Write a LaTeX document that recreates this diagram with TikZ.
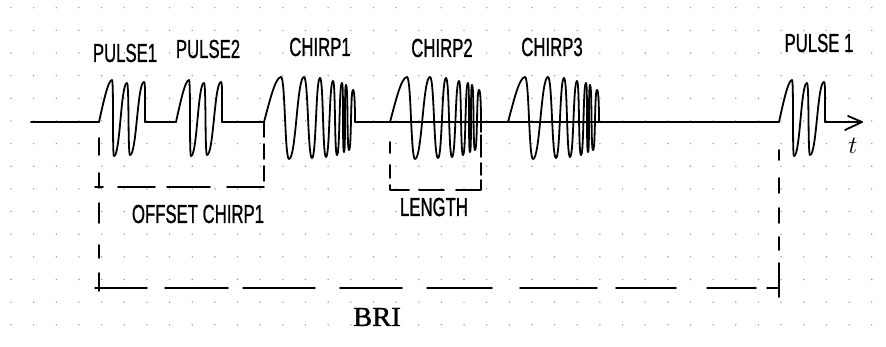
\documentclass[tikz,border=0pt]{standalone}
\usepackage{fontspec}
\usepackage{graphicx}
\newfontfamily\handfont[FakeBold=1.2]{Liberation Sans}
\newfontfamily\handserif[FakeBold=1.2]{Liberation Serif}

% tall, narrow capitals in the style of pen lettering
\newcommand\penlabel[1]{\scalebox{0.93}[1.45]{#1}}

% a run of half cycles, each from one extreme (x,y) to the next
\newcommand\halfwaves[1]{%
  \foreach \xa/\ya/\xb/\yb in {#1}{%
    \pgfmathsetmacro\wavectl{0.4*(\xb-\xa)+1}%
    \draw[pen] (\xa,\ya) .. controls ({\xa+\wavectl},\ya) and ({\xb-\wavectl},\yb) .. (\xb,\yb);}}

% short burst of three cycles, starting at x = 0 on the axis
\newcommand\pulseshape{%
  \draw[pen] (0,122) .. controls (4,104) and (9,80) .. (13,80);
  \halfwaves{13/80/15/156, 15/156/28/83, 28/83/31/155, 31/155/45/82}
  \draw[pen] (45,82) .. controls (46.5,82) and (46,100) .. (46,122);}

% up-chirp: cycles getting shorter, starting at x = 0 on the axis
\newcommand\chirpshape{%
  \draw[pen] (0,122) .. controls (5,104) and (11,77) .. (17,77);
  \halfwaves{17/77/25/159, 25/159/40/77, 40/77/48/158, 48/158/56/78,
             56/78/62/157, 62/157/69/81, 69/81/73/155, 73/155/78/83,
             78/83/80/152, 80/152/82/85, 82/85/85/150, 85/150/89/90}
  \draw[pen] (89,90) .. controls (90.5,90) and (91,105) .. (91,122);}

\begin{document}
\begin{tikzpicture}[x=1pt,y=-1pt,
  pen/.style={line width=1.8pt,line cap=round,line join=round,black},
  lab/.style={inner sep=0pt,font=\handfont\fontsize{18}{18}\selectfont},
  griddot/.style={fill=black!38}]

\fill[white] (0,0) rectangle (886,347);
\useasboundingbox (0,0) rectangle (886,347);

% dotted paper
\foreach \i in {0,...,38}{
  \foreach \j in {0,...,14}{
    \fill[griddot] ({11+22.65*\i},{7.7+22.65*\j}) circle (0.8);}}

% points on the time axis
\coordinate (ax0) at (31,122);
\coordinate (p1)  at (99,122);
\coordinate (p1e) at (145,122);
\coordinate (p2)  at (176,122);
\coordinate (p2e) at (222,122);
\coordinate (c1)  at (264,122);
\coordinate (c1e) at (355,122);
\coordinate (c2)  at (390,122);
\coordinate (c2e) at (481,122);
\coordinate (c3)  at (508,122);
\coordinate (c3e) at (599,122);
\coordinate (p3)  at (779,122);
\coordinate (p3e) at (825,122);
\coordinate (tip) at (862,122);

% dimension line corners
\coordinate (o1)  at (99,187);
\coordinate (o2)  at (264,187);
\coordinate (lb1) at (390,190);
\coordinate (lb2) at (481,190);
\coordinate (b1)  at (99,288);
\coordinate (b2)  at (779,288);

% time axis between the signals
\draw[pen] (ax0) -- (p1);
\draw[pen] (p1e) -- (p2);
\draw[pen] (p2e) -- (c1);
\draw[pen] (c1e) -- (p3);
\draw[pen] (p3e) -- (tip);
\draw[pen] ([shift={(-14,-6)}]tip) -- (tip) -- ([shift={(-17,8)}]tip);

% the signals
\begin{scope}[xshift=99pt]\pulseshape\end{scope}
\begin{scope}[xshift=176pt]\pulseshape\end{scope}
\begin{scope}[xshift=779pt]\pulseshape\end{scope}
\begin{scope}[xshift=264pt]\chirpshape\end{scope}
\begin{scope}[xshift=390pt]\chirpshape\end{scope}
\begin{scope}[xshift=508pt]\chirpshape\end{scope}

% labels above the signals
\node[lab] (lp1) at (125,53) {\penlabel{PULSE1}};
\node[lab] (lp2) at (208,49) {\penlabel{PULSE2}};
\node[lab] (lc1) at (320,47) {\penlabel{CHIRP1}};
\node[lab] (lc2) at (442,48) {\penlabel{CHIRP2}};
\node[lab] (lc3) at (552,47) {\penlabel{CHIRP3}};
\node[lab] (lp3) at (819,43) {\penlabel{PULSE 1}};
\node[inner sep=0pt] (tl) at (853,146) {\fontsize{34}{34}\selectfont$t$};

% offset of the first chirp
\draw[pen,dash pattern=on 17pt off 18pt on 15pt off 15pt on 20pt off 22pt on 13pt off 15pt on 18pt off 23pt,dash phase=160pt,shorten >=-8pt] (p1) -- (b1);
\draw[pen,dash pattern=on 15pt off 7pt] (c1) -- ([yshift=5pt]o2);
\draw[pen,dash pattern=on 8pt off 15pt on 37pt off 12pt on 43pt off 17pt on 45pt,shorten <=-4pt] (o1) -- (o2);
\node[lab] (loff) at (198,214) {\penlabel{OFFSET CHIRP1}};

% length of a chirp
\draw[pen,dash pattern=on 11pt off 12pt on 13pt off 7pt on 24pt off 10pt on 25pt off 12pt on 35pt off 5pt on 12pt off 6pt on 22pt off 3pt on 11pt off 20pt,dash phase=208pt] (c2) -- (lb1) -- (lb2) -- (c2e);
\node[lab] (llen) at (434,207) {\penlabel{LENGTH}};

% burst repetition interval
\draw[pen,dash pattern=on 10pt off 18pt on 15pt off 15pt on 15pt off 14pt on 13pt off 13pt on 34pt off 28pt,dash phase=147pt,shorten >=-9pt] (p3) -- (b2);
\draw[pen,dash pattern=on 52pt off 18pt on 63pt off 15pt on 72pt off 25pt on 62pt off 25pt on 65pt off 28pt on 77pt off 19pt on 60pt off 31pt on 49pt off 11pt on 12pt,shorten <=-4pt] (b1) -- (b2);
\node[inner sep=0pt,font=\handserif\fontsize{22}{22}\selectfont] (lbri) at (377,317) {\scalebox{1.3}[1.25]{BRI}};

\end{tikzpicture}
\end{document}
